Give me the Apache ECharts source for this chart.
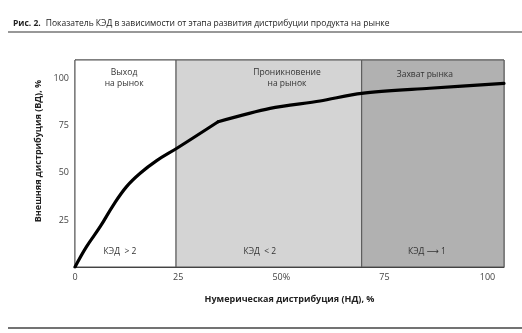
<!DOCTYPE html>
<html><head><meta charset="utf-8">
<script src="https://cdn.jsdelivr.net/npm/echarts@6/dist/echarts.min.js"></script>
<style>html,body{margin:0;padding:0;background:#fff}#c{width:522px;height:333px}</style>
</head><body><div id="c"></div>
<script>
var xTicks = [0, 25, 50, 75, 100];
var yTicks = [25, 50, 75, 100];
var curveX = [0, 2.8, 6.1, 9.3, 12.5, 15.8, 19.8, 24.7, 34.7, 47.3, 59.4, 69.5, 86, 104];
var curveY = [0, 10.8, 21.4, 32.9, 42.7, 49.8, 56.5, 63.1, 77.2, 84.3, 88.2, 92.3, 95.0, 97.6];
var kinkIndex = 8;
var regionBounds = [0, 24.5, 69.5, 104];
var regionColors = ['#ffffff', '#d4d4d4', '#b1b1b1'];
var regionNames = ['Выход\nна рынок', 'Проникновение\nна рынок', 'Захват рынка'];
var regionNameX = [11.9, 51.4, 84.8];
var regionNameY = [100.3, 100.3, 102];
var kedNames = ['КЭД  > 2', 'КЭД  < 2', 'КЭД ⟶ 1'];
var kedX = [10.9, 44.8, 85.3];
var kedY = [8, 8, 8];

var FONT = '"Open Sans", "Noto Sans", "DejaVu Sans", sans-serif';
var chart = echarts.init(document.getElementById('c'), null, {renderer: 'canvas'});

var areas = [];
for (var i = 0; i < 3; i++) {
  areas.push([{xAxis: regionBounds[i], yAxis: 0, itemStyle: {color: regionColors[i]}}, {xAxis: regionBounds[i + 1], yAxis: 110}]);
}
var labelPts = [];
for (var j = 0; j < 3; j++) {
  labelPts.push({coord: [regionNameX[j], regionNameY[j]], value: regionNames[j]});
  labelPts.push({coord: [kedX[j], kedY[j]], value: kedNames[j]});
}
var data = curveX.map(function (x, k) { return [x, curveY[k]]; });
var dataA = data.slice(0, kinkIndex + 1);
var dataB = data.slice(kinkIndex);

chart.setOption({
  animation: false,
  backgroundColor: '#fff',
  title: {
    left: 8, top: 10,
    text: '{b|Рис. 2.} {n|Показатель КЭД в зависимости от этапа развития дистрибуции продукта на рынке}',
    textStyle: {
      fontWeight: 'normal',
      rich: {
        b: {fontFamily: FONT, fontSize: 8.5, fontWeight: 'bold', color: '#222'},
        n: {fontFamily: FONT, fontSize: 8.5, fontWeight: 'normal', color: '#222'}
      }
    }
  },
  grid: {left: 75, right: 18, top: 60, bottom: 66, show: true, borderColor: '#555', borderWidth: 1, backgroundColor: 'transparent'},
  xAxis: {
    type: 'value', min: 0, max: 104, interval: 25,
    name: 'Нумерическая дистрибуция (НД), %', nameLocation: 'middle', nameGap: 28,
    nameTextStyle: {fontFamily: FONT, fontSize: 9, fontWeight: 'bold', color: '#222'},
    axisLine: {show: true, lineStyle: {color: '#333', width: 1}},
    axisTick: {show: false}, splitLine: {show: false},
    axisLabel: {
      fontFamily: FONT, fontSize: 9, color: '#444', margin: 6, showMaxLabel: false,
      formatter: function (v) { return xTicks.indexOf(v) < 0 ? '' : (v === 50 ? '50%' : String(v)); }
    }
  },
  yAxis: {
    type: 'value', min: 0, max: 110, interval: 25,
    axisLine: {show: true, lineStyle: {color: '#666', width: 1}},
    axisTick: {show: false}, splitLine: {show: false},
    axisLabel: {
      fontFamily: FONT, fontSize: 9, color: '#444', margin: 6, showMaxLabel: false,
      formatter: function (v) { return yTicks.indexOf(v) < 0 ? '' : String(v); }
    }
  },
  graphic: [
    {type: 'line', shape: {x1: 8, y1: 32, x2: 522, y2: 32}, style: {stroke: '#333', lineWidth: 1.2}},
    {type: 'line', shape: {x1: 8, y1: 328, x2: 522, y2: 328}, style: {stroke: '#444', lineWidth: 1.5}},
    {type: 'text', x: 38, y: 151, rotation: Math.PI / 2,
      style: {text: 'Внешняя дистрибуция (ВД), %', font: 'bold 9px ' + FONT, fill: '#222', textAlign: 'center', textVerticalAlign: 'middle'}}
  ],
  series: [{
    type: 'line', data: dataA, showSymbol: false, smooth: 0.4, z: 5,
    lineStyle: {color: '#000', width: 3.2, cap: 'round', join: 'round'},
    markArea: {silent: true, z: 1, itemStyle: {borderColor: '#555', borderWidth: 1}, data: areas},
    markPoint: {
      silent: true, symbol: 'circle', symbolSize: 0, data: labelPts,
      label: {show: true, position: 'inside', formatter: function (p) { return p.value; },
        fontFamily: FONT, fontSize: 8.5, lineHeight: 11, color: '#333', align: 'center'}
    }
  }, {
    type: 'line', data: dataB, showSymbol: false, smooth: 0.3, z: 5,
    lineStyle: {color: '#000', width: 3.2, cap: 'round', join: 'round'}
  }]
});
</script></body></html>
